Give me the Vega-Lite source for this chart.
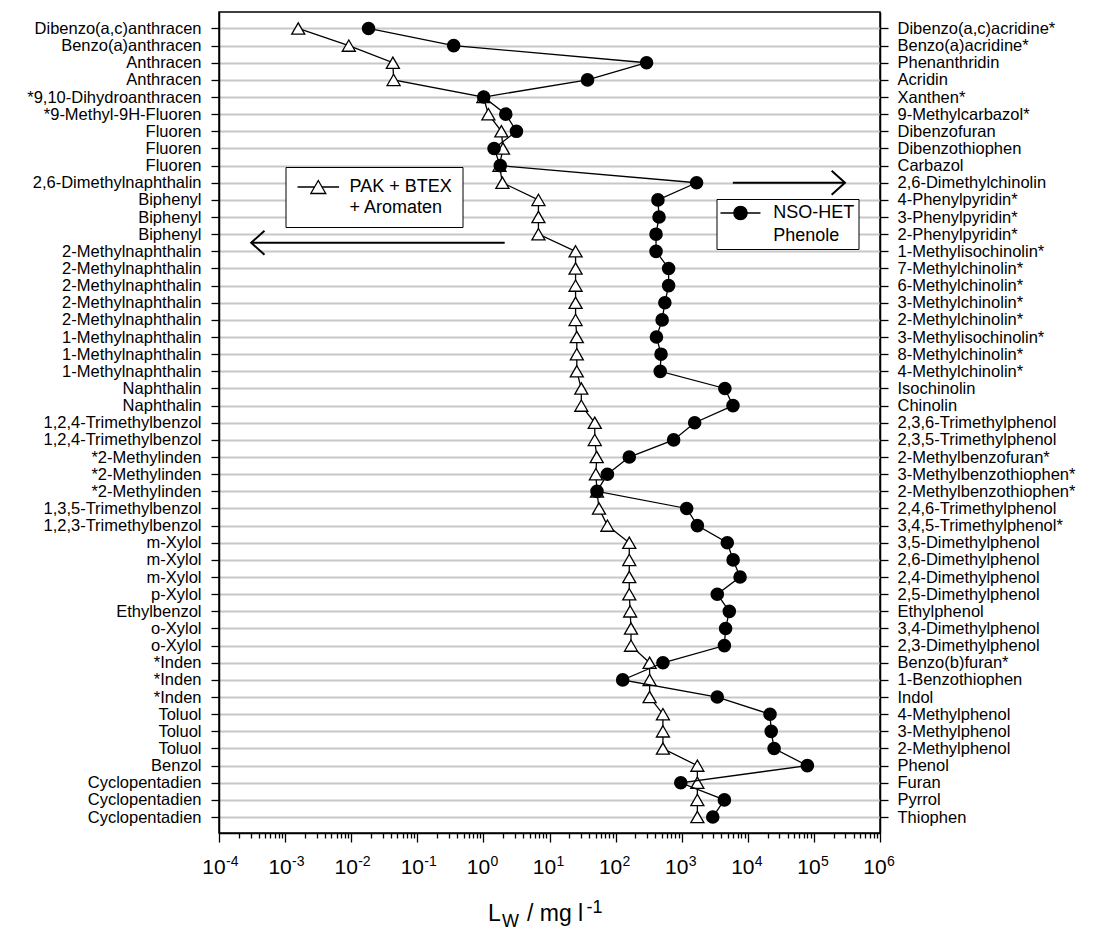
{
  "$schema": "https://vega.github.io/schema/vega-lite/v6.json",
  "width": 661,
  "height": 821,
  "autosize": {"type": "none"},
  "padding": {"left": 219, "top": 12, "right": 216, "bottom": 101},
  "background": "white",
  "config": {
    "font": "Liberation Sans",
    "view": {"stroke": "black", "strokeWidth": 1.5, "fill": "white"},
    "axis": {
      "domainColor": "black",
      "domainWidth": 1.5,
      "tickColor": "black",
      "tickWidth": 1.3,
      "labelColor": "black",
      "titleColor": "black",
      "titleFontWeight": "normal",
      "labelFlush": false,
      "labelOverlap": false,
      "labelBound": false,
      "grid": false
    },
    "legend": {"labelColor": "black"}
  },
  "datasets": {
    "rows": [
      {"row": 1, "left": "Dibenzo(a,c)anthracen", "right": "Dibenzo(a,c)acridine*", "pak": 0.00158, "het": 0.0183},
      {"row": 2, "left": "Benzo(a)anthracen", "right": "Benzo(a)acridine*", "pak": 0.0092, "het": 0.355},
      {"row": 3, "left": "Anthracen", "right": "Phenanthridin", "pak": 0.0427, "het": 294},
      {"row": 4, "left": "Anthracen", "right": "Acridin", "pak": 0.0438, "het": 37.6},
      {"row": 5, "left": "*9,10-Dihydroanthracen", "right": "Xanthen*", "pak": 1.0, "het": 1.01},
      {"row": 6, "left": "*9-Methyl-9H-Fluoren", "right": "9-Methylcarbazol*", "pak": 1.19, "het": 2.18},
      {"row": 7, "left": "Fluoren", "right": "Dibenzofuran", "pak": 1.87, "het": 3.16},
      {"row": 8, "left": "Fluoren", "right": "Dibenzothiophen", "pak": 1.98, "het": 1.45},
      {"row": 9, "left": "Fluoren", "right": "Carbazol", "pak": 1.75, "het": 1.8},
      {"row": 10, "left": "2,6-Dimethylnaphthalin", "right": "2,6-Dimethylchinolin", "pak": 1.94, "het": 1679},
      {"row": 11, "left": "Biphenyl", "right": "4-Phenylpyridin*", "pak": 6.8, "het": 437},
      {"row": 12, "left": "Biphenyl", "right": "3-Phenylpyridin*", "pak": 6.8, "het": 454},
      {"row": 13, "left": "Biphenyl", "right": "2-Phenylpyridin*", "pak": 6.8, "het": 409},
      {"row": 14, "left": "2-Methylnaphthalin", "right": "1-Methylisochinolin*", "pak": 24.8, "het": 409},
      {"row": 15, "left": "2-Methylnaphthalin", "right": "7-Methylchinolin*", "pak": 24.8, "het": 634},
      {"row": 16, "left": "2-Methylnaphthalin", "right": "6-Methylchinolin*", "pak": 24.8, "het": 634},
      {"row": 17, "left": "2-Methylnaphthalin", "right": "3-Methylchinolin*", "pak": 24.8, "het": 556},
      {"row": 18, "left": "2-Methylnaphthalin", "right": "2-Methylchinolin*", "pak": 24.8, "het": 506},
      {"row": 19, "left": "1-Methylnaphthalin", "right": "3-Methylisochinolin*", "pak": 25.9, "het": 415},
      {"row": 20, "left": "1-Methylnaphthalin", "right": "8-Methylchinolin*", "pak": 25.9, "het": 487},
      {"row": 21, "left": "1-Methylnaphthalin", "right": "4-Methylchinolin*", "pak": 25.9, "het": 473},
      {"row": 22, "left": "Naphthalin", "right": "Isochinolin", "pak": 30.3, "het": 4500},
      {"row": 23, "left": "Naphthalin", "right": "Chinolin", "pak": 30.3, "het": 5970},
      {"row": 24, "left": "1,2,4-Trimethylbenzol", "right": "2,3,6-Trimethylphenol", "pak": 48.4, "het": 1571},
      {"row": 25, "left": "1,2,4-Trimethylbenzol", "right": "2,3,5-Trimethylphenol", "pak": 48.4, "het": 755},
      {"row": 26, "left": "*2-Methylinden", "right": "2-Methylbenzofuran*", "pak": 51.8, "het": 161},
      {"row": 27, "left": "*2-Methylinden", "right": "3-Methylbenzothiophen*", "pak": 50.3, "het": 75.2},
      {"row": 28, "left": "*2-Methylinden", "right": "2-Methylbenzothiophen*", "pak": 52.3, "het": 52.3},
      {"row": 29, "left": "1,3,5-Trimethylbenzol", "right": "2,4,6-Trimethylphenol", "pak": 56.1, "het": 1189},
      {"row": 30, "left": "1,2,3-Trimethylbenzol", "right": "3,4,5-Trimethylphenol*", "pak": 75.2, "het": 1726},
      {"row": 31, "left": "m-Xylol", "right": "3,5-Dimethylphenol", "pak": 161, "het": 4895},
      {"row": 32, "left": "m-Xylol", "right": "2,6-Dimethylphenol", "pak": 161, "het": 6000},
      {"row": 33, "left": "m-Xylol", "right": "2,4-Dimethylphenol", "pak": 161, "het": 7640},
      {"row": 34, "left": "p-Xylol", "right": "2,5-Dimethylphenol", "pak": 161, "het": 3453},
      {"row": 35, "left": "Ethylbenzol", "right": "Ethylphenol", "pak": 166, "het": 5250},
      {"row": 36, "left": "o-Xylol", "right": "3,4-Dimethylphenol", "pak": 171, "het": 4613},
      {"row": 37, "left": "o-Xylol", "right": "2,3-Dimethylphenol", "pak": 171, "het": 4424},
      {"row": 38, "left": "*Inden", "right": "Benzo(b)furan*", "pak": 327, "het": 520},
      {"row": 39, "left": "*Inden", "right": "1-Benzothiophen", "pak": 327, "het": 128},
      {"row": 40, "left": "*Inden", "right": "Indol", "pak": 327, "het": 3453},
      {"row": 41, "left": "Toluol", "right": "4-Methylphenol", "pak": 520, "het": 21680},
      {"row": 42, "left": "Toluol", "right": "3-Methylphenol", "pak": 520, "het": 22600},
      {"row": 43, "left": "Toluol", "right": "2-Methylphenol", "pak": 520, "het": 25000},
      {"row": 44, "left": "Benzol", "right": "Phenol", "pak": 1726, "het": 79600},
      {"row": 45, "left": "Cyclopentadien", "right": "Furan", "pak": 1726, "het": 968},
      {"row": 46, "left": "Cyclopentadien", "right": "Pyrrol", "pak": 1726, "het": 4424},
      {"row": 47, "left": "Cyclopentadien", "right": "Thiophen", "pak": 1726, "het": 2951}
    ],
    "arrows": [
      {"from": 2.1, "to": 0.000307, "row": 13.5, "dir": "left"},
      {"from": 5943, "to": 295000, "row": 10, "dir": "right"}
    ]
  },
  "data": {"name": "rows"},
  "resolve": {
    "axis": {"x": "independent", "y": "independent"},
    "scale": {"stroke": "independent"}
  },
  "layer": [
    {
      "mark": {"type": "line", "strokeWidth": 1.3},
      "encoding": {
        "x": {
          "field": "pak", "type": "quantitative",
          "scale": {"type": "log", "domain": [0.0001, 1000000], "nice": false},
          "axis": {
            "orient": "bottom",
            "values": [0.0001, 0.001, 0.01, 0.1, 1, 10, 100, 1000, 10000, 100000, 1000000],
            "labelExpr": "'10'",
            "labelFontSize": 21,
            "labelBaseline": "alphabetic",
            "labelPadding": 31,
            "labelOffset": -5.5,
            "tickSize": 9,
            "title": "L",
            "titleFontSize": 23,
            "titleX": 268.5,
            "titleY": 87,
            "titleAlign": "left",
            "titleBaseline": "alphabetic",
            "titleAngle": 0
          }
        },
        "y": {
          "field": "row", "type": "quantitative",
          "scale": {"domain": [0.04, 47.93], "reverse": true, "nice": false, "zero": false},
          "axis": {
            "orient": "left",
            "values": [1,2,3,4,5,6,7,8,9,10,11,12,13,14,15,16,17,18,19,20,21,22,23,24,25,26,27,28,29,30,31,32,33,34,35,36,37,38,39,40,41,42,43,44,45,46,47],
            "labelExpr": "data('rows')[datum.value - 1] ? data('rows')[datum.value - 1].left : ''",
            "labelFontSize": 16.5,
            "labelLimit": 300,
            "labelPadding": 10,
            "tickSize": 8,
            "grid": true,
            "gridColor": "#c8c8c8",
            "gridWidth": 2,
            "title": null
          }
        },
        "order": {"field": "row", "type": "quantitative"},
        "stroke": {
          "datum": "PAK + BTEX\n+ Aromaten",
          "scale": {"range": ["black"]},
          "legend": {
            "orient": "none",
            "legendX": 66.5,
            "legendY": 155,
            "title": null,
            "symbolType": "M-0.89,0L1,0M1.84,0L3.73,0M1.42,-0.72L2.25,0.72L0.59,0.72Z",
            "symbolSize": 324,
            "symbolStrokeWidth": 1.3,
            "labelFontSize": 18,
            "labelOffset": 34,
            "labelLimit": 400,
            "labelExpr": "split(datum.label, '\\n')",
            "padding": 10,
            "strokeColor": "black",
            "fillColor": "white",
            "encode": {
              "symbols": {"update": {"fill": {"value": "white"}, "stroke": {"value": "black"}}},
              "labels": {"update": {"lineHeight": {"value": 21}}}
            }
          }
        }
      }
    },
    {
      "mark": {"type": "point", "shape": "triangle-up", "filled": true, "fill": "white", "stroke": "black", "strokeWidth": 1.3, "size": 170, "opacity": 1},
      "encoding": {
        "x": {
          "field": "pak", "type": "quantitative",
          "scale": {"type": "log", "domain": [0.0001, 1000000], "nice": false},
          "axis": {
            "orient": "bottom",
            "values": [0.0001, 0.001, 0.01, 0.1, 1, 10, 100, 1000, 10000, 100000, 1000000],
            "labelExpr": "toString(round(log(datum.value) / LN10))",
            "labelFontSize": 14,
            "labelAlign": "left",
            "labelBaseline": "alphabetic",
            "labelPadding": 32,
            "labelOffset": 6.5,
            "ticks": false,
            "domain": false,
            "title": "W",
            "titleFontSize": 18,
            "titleX": 282.5,
            "titleY": 93,
            "titleAlign": "left",
            "titleBaseline": "alphabetic",
            "titleAngle": 0
          }
        },
        "y": {"field": "row", "type": "quantitative", "axis": null}
      }
    },
    {
      "mark": {"type": "line", "strokeWidth": 1.3},
      "encoding": {
        "x": {
          "field": "het", "type": "quantitative",
          "scale": {"type": "log", "domain": [0.0001, 1000000], "nice": false},
          "axis": {
            "orient": "bottom",
            "values": [0.0002,0.0003,0.0004,0.0005,0.0006,0.0007,0.0008,0.0009,0.002,0.003,0.004,0.005,0.006,0.007,0.008,0.009,0.02,0.03,0.04,0.05,0.06,0.07,0.08,0.09,0.2,0.3,0.4,0.5,0.6,0.7,0.8,0.9,2,3,4,5,6,7,8,9,20,30,40,50,60,70,80,90,200,300,400,500,600,700,800,900,2000,3000,4000,5000,6000,7000,8000,9000,20000,30000,40000,50000,60000,70000,80000,90000,200000,300000,400000,500000,600000,700000,800000,900000],
            "labels": false,
            "domain": false,
            "tickSize": 5,
            "title": "/ mg l",
            "titleFontSize": 23,
            "titleX": 307.5,
            "titleY": 87,
            "titleAlign": "left",
            "titleBaseline": "alphabetic",
            "titleAngle": 0
          }
        },
        "y": {
          "field": "row", "type": "quantitative",
          "axis": {
            "orient": "right",
            "values": [1,2,3,4,5,6,7,8,9,10,11,12,13,14,15,16,17,18,19,20,21,22,23,24,25,26,27,28,29,30,31,32,33,34,35,36,37,38,39,40,41,42,43,44,45,46,47],
            "labelExpr": "data('rows')[datum.value - 1] ? data('rows')[datum.value - 1].right : ''",
            "labelFontSize": 16.5,
            "labelLimit": 300,
            "labelPadding": 9,
            "tickSize": 8,
            "domain": true,
            "title": null
          }
        },
        "order": {"field": "row", "type": "quantitative"},
        "stroke": {
          "datum": "NSO-HET\nPhenole",
          "scale": {"range": ["black"]},
          "legend": {
            "orient": "none",
            "legendX": 497.5,
            "legendY": 187,
            "title": null,
            "symbolType": "M-1.11,0L3.33,0M1.85,0A0.74,0.74,0,1,1,0.37,0A0.74,0.74,0,1,1,1.85,0Z",
            "symbolSize": 324,
            "symbolStrokeWidth": 1.3,
            "labelFontSize": 18,
            "labelOffset": 32.7,
            "labelLimit": 400,
            "labelExpr": "split(datum.label, '\\n')",
            "padding": 4,
            "strokeColor": "black",
            "fillColor": "white",
            "encode": {
              "symbols": {"update": {"fill": {"value": "black"}, "stroke": {"value": "black"}}},
              "labels": {"update": {"lineHeight": {"value": 22.7}}}
            }
          }
        }
      }
    },
    {
      "mark": {"type": "point", "shape": "circle", "filled": true, "fill": "black", "stroke": null, "size": 185, "opacity": 1},
      "encoding": {
        "x": {
          "field": "het", "type": "quantitative",
          "scale": {"type": "log", "domain": [0.0001, 1000000], "nice": false},
          "axis": {
            "orient": "bottom",
            "labels": false,
            "ticks": false,
            "domain": false,
            "title": "-1",
            "titleFontSize": 18,
            "titleX": 367,
            "titleY": 79,
            "titleAlign": "left",
            "titleBaseline": "alphabetic",
            "titleAngle": 0
          }
        },
        "y": {"field": "row", "type": "quantitative", "axis": null}
      }
    },
    {
      "data": {"name": "arrows"},
      "mark": {"type": "rule", "color": "black", "strokeWidth": 2},
      "encoding": {
        "x": {"field": "from", "type": "quantitative", "scale": {"type": "log", "domain": [0.0001, 1000000], "nice": false}, "axis": null},
        "x2": {"field": "to"},
        "y": {"field": "row", "type": "quantitative", "axis": null}
      }
    },
    {
      "data": {"name": "arrows"},
      "mark": {"type": "point", "filled": false, "stroke": "black", "strokeWidth": 2, "size": 708, "opacity": 1},
      "encoding": {
        "x": {"field": "to", "type": "quantitative", "scale": {"type": "log", "domain": [0.0001, 1000000], "nice": false}, "axis": null},
        "y": {"field": "row", "type": "quantitative", "axis": null},
        "shape": {
          "field": "dir", "type": "nominal",
          "scale": {"domain": ["left", "right"], "range": ["M1,-0.9L0,0L1,0.9", "M-1,-0.9L0,0L-1,0.9"]},
          "legend": null
        }
      }
    }
  ]
}
